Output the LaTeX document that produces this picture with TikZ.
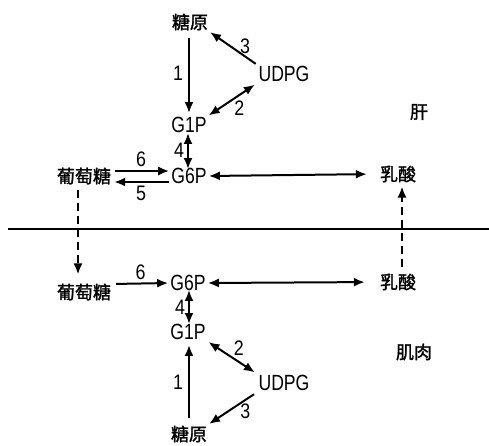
\documentclass[tikz,border=0pt]{standalone}
\usepackage{fontspec}
\setmainfont[FakeStretch=0.8]{Liberation Sans}
\newfontfamily\numfont[FakeStretch=0.85]{Liberation Sans}
\newfontfamily\cjk[FakeBold=1.5]{Noto Sans CJK SC}
\usetikzlibrary{arrows.meta,positioning}
\tikzset{
  lat/.style={inner sep=1pt, font=\fontsize{22}{22}\selectfont},
  zh/.style={inner sep=1pt, font=\cjk\fontsize{18}{18}\selectfont},
  num/.style={inner sep=0pt, font=\numfont\fontsize{21}{21}\selectfont},
  arr/.style={line width=2pt, -{Latex[length=11pt,width=9pt]}},
  darr/.style={line width=2pt, {Latex[length=11pt,width=9pt]}-{Latex[length=11pt,width=9pt]}},
  dsh/.style={line width=2pt, dash pattern=on 8pt off 5pt, -{Latex[length=11pt,width=9pt]}},
}
\begin{document}
\begin{tikzpicture}[x=1pt,y=-1pt]
\useasboundingbox (0,0) rectangle (489,445);
% top (liver)
\node[zh] (gly1) at (190,22) {糖原};
\node[lat] (udpg1) at (284,74) {UDPG};
\node[lat] (g1p1) at (189,125) {G1P};
\node[lat] (g6p1) at (189,176) {G6P};
\node[zh] (glu1) at (84,176) {葡萄糖};
\node[zh] (lac1) at (398,174) {乳酸};
\node[zh] (liver) at (419,112) {肝};
% bottom (muscle)
\node[zh] (glu2) at (84,292) {葡萄糖};
\node[lat] (g6p2) at (188,283) {G6P};
\node[zh] (lac2) at (398,282) {乳酸};
\node[lat] (g1p2) at (188,332) {G1P};
\node[lat] (udpg2) at (284,383) {UDPG};
\node[zh] (gly2) at (189,434) {糖原};
\node[zh] (muscle) at (414,352) {肌肉};
% membrane line
\coordinate (mL) at (8,229);
\coordinate (mR) at (489,229);
\draw[line width=2.6pt] (mL) -- (mR);
% top arrows
\draw[arr, shorten <=6pt, shorten >=3pt] ([xshift=-1pt]gly1.south) -- ([xshift=-1pt]gly1.south |- g1p1.north) node[num, midway, left=5pt] (n1a) {1};
\draw[arr, shorten <=2pt, shorten >=1pt] (udpg1.north west) -- (gly1.south east) node[num, pos=0.35, above right=-2pt] (n3a) {3};
\draw[darr, shorten <=1pt, shorten >=3pt] (g1p1.north east) -- (udpg1.south west) node[num, pos=0.5, below right=1pt] (n2a) {2};
\draw[darr, shorten <=-1pt, shorten >=-2pt] ([xshift=-1pt]g1p1.south) -- ([xshift=-1pt]g6p1.north) node[num, midway, left=3pt] (n4a) {4};
\draw[arr, shorten <=3pt, shorten >=1pt] ([yshift=5pt]glu1.east) -- ([yshift=5pt]g6p1.west) node[num, midway, above=3pt] (n6a) {6};
\draw[arr, shorten <=1pt, shorten >=2pt] ([yshift=-6pt]g6p1.west) -- ([yshift=-6pt]glu1.east) node[num, midway, below=3pt] (n5a) {5};
\draw[darr, shorten <=1pt, shorten >=12pt] (g6p1.east) -- (lac1.west);
\draw[dsh, shorten <=4pt, shorten >=8pt] ([xshift=-6pt]glu1.south) -- ([xshift=-6pt]glu2.north);
\draw[dsh, shorten <=6pt, shorten >=3pt] ([xshift=4pt]lac2.north) -- ([xshift=4pt]lac1.south);
% bottom arrows
\draw[arr, shorten <=4pt, shorten >=1pt] ([yshift=-1pt]glu2.east |- g6p2.west) -- (g6p2.west) node[num, midway, above=3pt] (n6b) {6};
\draw[darr, shorten <=1pt, shorten >=14pt] (g6p2.east) -- (lac2.west);
\draw[darr, shorten <=-2pt, shorten >=-1pt] ([xshift=1pt]g6p2.south) -- ([xshift=1pt]g1p2.north) node[num, midway, left=3pt] (n4b) {4};
\draw[darr, shorten <=2pt, shorten >=3pt] (g1p2.south east) -- (udpg2.north west) node[num, pos=0.5, above right=1pt] (n2b) {2};
\draw[arr, shorten <=6pt, shorten >=4pt] (gly2.north) -- (gly2.north |- g1p2.south) node[num, midway, left=5pt] (n1b) {1};
\draw[arr, shorten <=4pt, shorten >=1pt] (udpg2.south west) -- (gly2.north east) node[num, pos=0.35, below right=-1pt] (n3b) {3};
\end{tikzpicture}
\end{document}
